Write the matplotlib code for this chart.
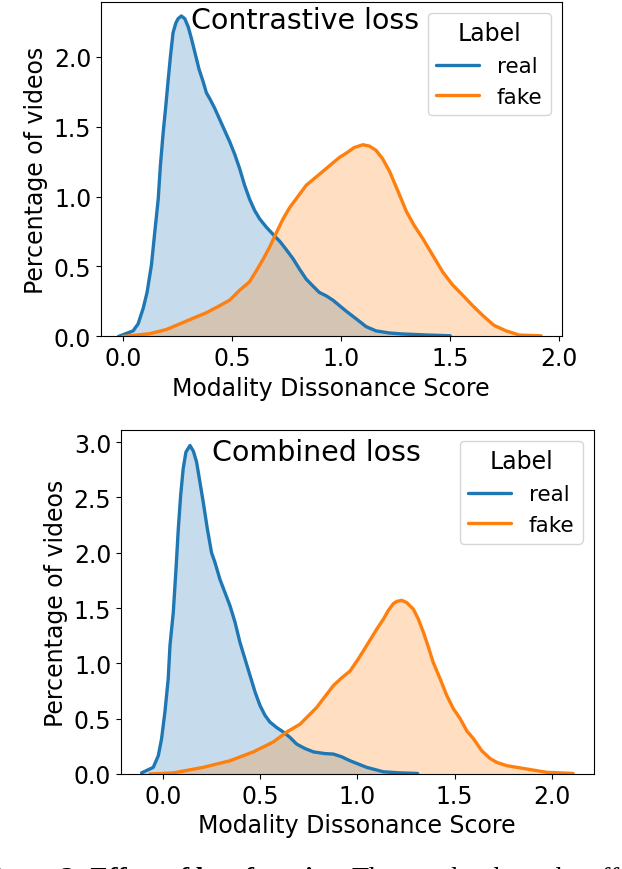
import numpy as np
import matplotlib
matplotlib.use("Agg")
import matplotlib.pyplot as plt

# Kurver lest av figuren (score, tetthet)
top_real_x = [-0.02, 0.047, 0.07, 0.093, 0.111,
              0.131, 0.146, 0.162, 0.172, 0.185,
              0.197, 0.207, 0.218, 0.23, 0.243,
              0.253, 0.268, 0.284, 0.30, 0.314,
              0.33, 0.349, 0.368, 0.383, 0.398,
              0.421, 0.444, 0.467, 0.49, 0.513,
              0.535, 0.558, 0.581, 0.604, 0.627,
              0.658, 0.688, 0.719, 0.749, 0.78,
              0.81, 0.84, 0.871, 0.90, 0.932,
              0.962, 1.024, 1.07, 1.115, 1.16,
              1.22, 1.28, 1.40, 1.50]
top_real_y = [0.0, 0.04, 0.09, 0.20, 0.315,
              0.51, 0.74, 0.98, 1.22, 1.46,
              1.65, 1.82, 2.00, 2.17, 2.24,
              2.27, 2.29, 2.27, 2.21, 2.13,
              2.03, 1.91, 1.82, 1.74, 1.70,
              1.63, 1.55, 1.47, 1.39, 1.30,
              1.20, 1.08, 0.98, 0.90, 0.84,
              0.78, 0.73, 0.68, 0.62, 0.555,
              0.48, 0.41, 0.36, 0.315, 0.29,
              0.26, 0.18, 0.125, 0.07, 0.04,
              0.025, 0.018, 0.01, 0.005]
top_fake_x = [0.0, 0.124, 0.2, 0.276, 0.337,
              0.383, 0.444, 0.49, 0.535, 0.58,
              0.612, 0.642, 0.673, 0.703, 0.734,
              0.764, 0.802, 0.84, 0.886, 0.947,
              0.993, 1.024, 1.06, 1.10, 1.13,
              1.16, 1.19, 1.222, 1.26, 1.30,
              1.336, 1.374, 1.42, 1.466, 1.51,
              1.557, 1.603, 1.649, 1.70, 1.756,
              1.817, 1.916]
top_fake_y = [0.0, 0.02, 0.05, 0.10, 0.14,
              0.17, 0.22, 0.26, 0.33, 0.39,
              0.47, 0.55, 0.64, 0.74, 0.84,
              0.92, 1.0, 1.08, 1.14, 1.22,
              1.28, 1.31, 1.35, 1.37, 1.36,
              1.33, 1.27, 1.18, 1.04, 0.89,
              0.79, 0.70, 0.58, 0.46, 0.37,
              0.295, 0.22, 0.15, 0.08, 0.04,
              0.01, 0.005]

bot_real_x = [-0.11, -0.05, -0.024, -0.007, 0.010,
              0.027, 0.036, 0.053, 0.067, 0.079,
              0.091, 0.104, 0.118, 0.139, 0.156,
              0.173, 0.19, 0.207, 0.228, 0.25,
              0.268, 0.293, 0.319, 0.345, 0.371,
              0.396, 0.422, 0.448, 0.474, 0.499,
              0.525, 0.55, 0.585, 0.619, 0.654,
              0.688, 0.731, 0.774, 0.83, 0.877,
              0.92, 0.962, 1.048, 1.134, 1.22,
              1.31]
bot_real_y = [0.01, 0.06, 0.165, 0.32, 0.56,
              0.86, 1.16, 1.46, 1.85, 2.22,
              2.52, 2.76, 2.91, 2.97, 2.92,
              2.82, 2.64, 2.46, 2.22, 2.00,
              1.91, 1.76, 1.64, 1.52, 1.37,
              1.19, 1.04, 0.89, 0.74, 0.62,
              0.53, 0.47, 0.42, 0.38, 0.33,
              0.27, 0.23, 0.20, 0.185, 0.18,
              0.155, 0.12, 0.06, 0.02, 0.01,
              0.005]
bot_fake_x = [-0.067, 0.053, 0.207, 0.345, 0.465,
              0.568, 0.637, 0.705, 0.79, 0.877,
              0.92, 0.962, 1.005, 1.065, 1.10,
              1.134, 1.16, 1.185, 1.203, 1.228,
              1.254, 1.288, 1.314, 1.34, 1.365,
              1.39, 1.426, 1.46, 1.494, 1.529,
              1.563, 1.597, 1.64, 1.683, 1.717,
              1.769, 1.872, 1.975, 2.11]
bot_fake_y = [0.0, 0.01, 0.06, 0.12, 0.20,
              0.29, 0.38, 0.45, 0.60, 0.80,
              0.87, 0.93, 1.04, 1.21, 1.31,
              1.40, 1.48, 1.54, 1.56, 1.57,
              1.55, 1.49, 1.40, 1.28, 1.15,
              1.01, 0.86, 0.71, 0.59, 0.50,
              0.39, 0.32, 0.21, 0.14, 0.105,
              0.075, 0.045, 0.015, 0.005]

labels = ["real", "fake"]
titles = ["Contrastive loss", "Combined loss"]
farger = ["#1f77b4", "#ff7f0e"]

fig = plt.figure(figsize=(6.22, 8.70), dpi=100)
ax1 = fig.add_axes([0.1624, 0.6121, 0.7404, 0.3845])
ax2 = fig.add_axes([0.1945, 0.1092, 0.7597, 0.3954])

paneler = [
    (ax1, [(top_real_x, top_real_y), (top_fake_x, top_fake_y)], (-0.10, 2.01), 2.39,
     titles[0], 0.443, 0.922, [0.0, 0.5, 1.0, 1.5, 2.0]),
    (ax2, [(bot_real_x, bot_real_y), (bot_fake_x, bot_fake_y)], (-0.216, 2.215), 3.11,
     titles[1], 0.414, 0.913, [0.0, 0.5, 1.0, 1.5, 2.0, 2.5, 3.0]),
]

for ax, kurver, xlim, ytop, tittel, tx, ty, yt in paneler:
    for (x, y), farge, lab in zip(kurver, farger, labels):
        ax.fill_between(x, 0, y, color=farge, alpha=0.25, linewidth=0)
        ax.plot(x, y, color=farge, lw=2.4, label=lab, solid_joinstyle="round",
                solid_capstyle="round")
    ax.set_xlim(*xlim)
    ax.set_ylim(0, ytop)
    ax.set_xticks([0.0, 0.5, 1.0, 1.5, 2.0])
    ax.set_yticks(yt)
    ax.tick_params(labelsize=17)
    ax.set_xlabel("Modality Dissonance Score", fontsize=17)
    ax.set_ylabel("Percentage of videos", fontsize=17)
    ax.text(tx, ty, tittel, transform=ax.transAxes, ha="center", va="baseline", fontsize=20.5)
    ax.legend(title="Label", loc="upper right", fontsize=15.5, title_fontsize=17,
              handlelength=2.0)

# Avkuttet figurtekst nederst (bare toppen synes, som i originalen)
fig.text(-0.035, -0.0185, "Figure 3: Effect of loss function.", family="Liberation Serif",
         fontweight="bold", fontsize=19.5, va="baseline")
fig.text(0.566, -0.0185, "The graphs show the effect", family="Liberation Serif",
         fontsize=20, va="baseline")

fig.savefig("out.png", dpi=100)
